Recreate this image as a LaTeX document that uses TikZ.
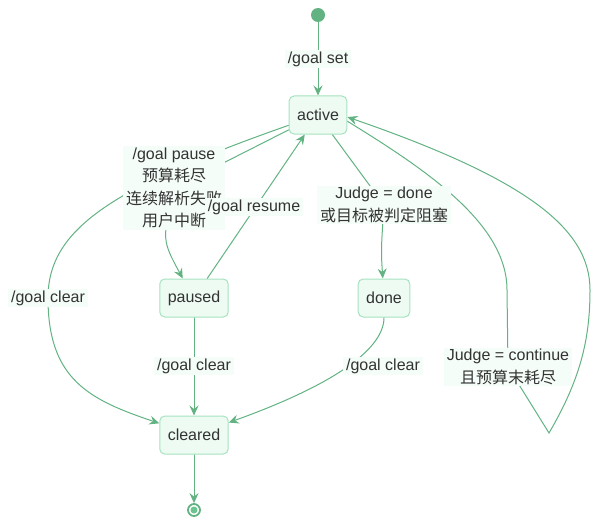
\documentclass[tikz,border=0pt]{standalone}
\usepackage{fontspec}
\setmainfont{Liberation Sans}
\newfontfamily\cjk{Noto Sans CJK SC}
\usepackage{xcolor}
\usetikzlibrary{arrows.meta,backgrounds}
\definecolor{ink}{HTML}{333333}
\definecolor{wire}{HTML}{62B282}
\definecolor{stateline}{HTML}{A6E3C0}
\definecolor{statefill}{HTML}{EDFBF2}
\definecolor{lblfill}{HTML}{F5FDF8}
\definecolor{corefill}{HTML}{6CC491}
\tikzset{
  state/.style={draw=stateline, fill=statefill, line width=1pt, rounded corners=5pt,
    inner xsep=8pt, minimum height=38pt, text=ink, font=\fontsize{16}{22}\selectfont},
  lbl/.style={fill=lblfill, inner xsep=3pt, inner ysep=1.5pt, align=center, text=ink,
    font=\fontsize{16}{22.5}\selectfont},
  edge/.style={draw=wire, line width=1pt, line cap=round,
    -{Stealth[length=10pt,width=9pt,inset=3.5pt]}},
  startdot/.style={circle, fill=wire, minimum size=14pt, inner sep=0pt},
  enddot/.style={circle, draw=wire, line width=1.8pt, fill=white, minimum size=12pt, inner sep=0pt},
  endcore/.style={circle, fill=corefill, minimum size=7pt, inner sep=0pt},
}

\begin{document}
\begin{tikzpicture}[x=1pt,y=-1pt]
  \useasboundingbox (0,0) rectangle (607,532);

  % states
  \node[startdot] (start) at (318,15) {};
  \node[state] (active)  at (318,115) {active};
  \node[state] (paused)  at (194,298) {paused};
  \node[state] (done)    at (384,298) {done};
  \node[state] (cleared) at (194,435) {cleared};
  \node[enddot] (finish) at (194,510) {};
  \node[endcore] (finishcore) at (finish) {};
  \coordinate (looptip) at (549,433);

  % transition labels
  \node[lbl] (lblset)    at (318,59)  {/goal set};
  \node[lbl] (lblpause)  at (174,188) {/goal pause\\{\cjk 预算耗尽}\\{\cjk 连续解析失败}\\{\cjk 用户中断}};
  \node[lbl] (lblresume) at (254,207) {/goal resume};
  \node[lbl] (lblclearA) at (48,298)  {/goal clear};
  \node[lbl] (lbldone)   at (384,205) {Judge = done\\{\cjk 或目标被判定阻塞}};
  \node[lbl] (lblclearP) at (194,366) {/goal clear};
  \node[lbl] (lblclearD) at (383,366) {/goal clear};
  \node[lbl] (lblloop)   at (508,367) {Judge = continue\\{\cjk 且预算末耗尽}};

  \begin{scope}[on background layer]
    \draw[edge] (start) -- (active);
    \draw[edge] (active) -- (lblpause.center) .. controls (162,240) .. (paused.120);
    \draw[edge] (paused) -- (active);
    \draw[edge] (active) .. controls (110,188) and (48,230) .. (lblclearA.center)
      .. controls (48,380) and (90,400) .. (cleared);
    \draw[edge] (active) -- (lbldone.center) .. controls (381,250) .. (done);
    \draw[edge] (paused) -- (cleared);
    \draw[edge] (done) .. controls (384,352) and (325,388) .. (cleared);
    \draw[edge] (active.-12) .. controls (430,172) and (507,225) .. (507,290)
      -- (lblloop.center) -- (looptip)
      .. controls (580,380) and (590,340) .. (590,290)
      .. controls (590,230) and (530,180) .. (active.-4);
    \draw[edge] (cleared) -- (finish);
  \end{scope}
\end{tikzpicture}
\end{document}
